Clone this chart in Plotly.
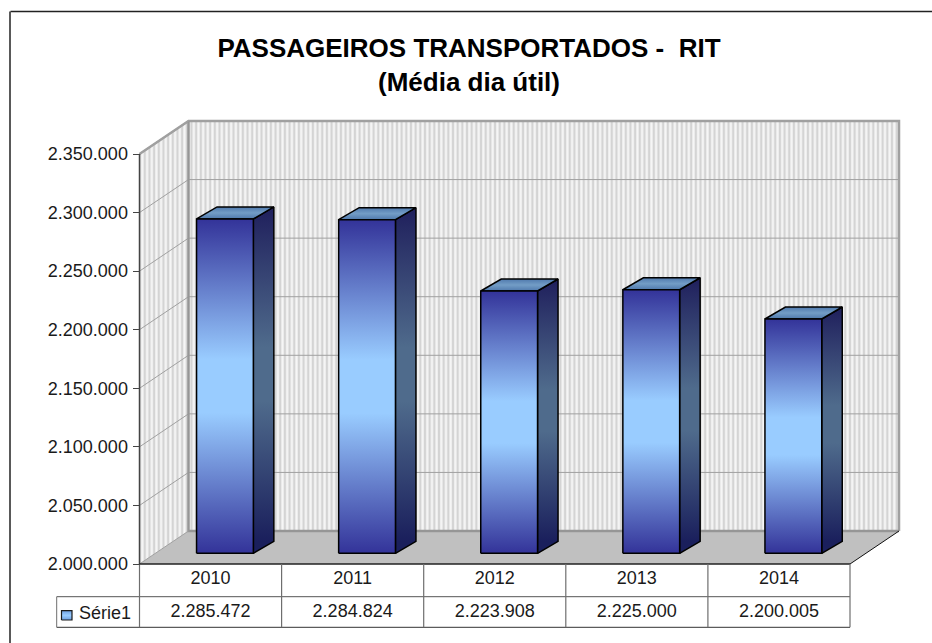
import plotly.graph_objects as go

# data
years = ["2010", "2011", "2012", "2013", "2014"]
values = [2285472, 2284824, 2223908, 2225000, 2200005]
series_name = "Série1"
y_ticks = [2000000, 2050000, 2100000, 2150000, 2200000, 2250000, 2300000, 2350000]
title_lines = ["PASSAGEIROS TRANSPORTADOS -  RIT", "(Média dia útil)"]

W, H = 932, 643
X0, X1, Y0, Y1 = 139.5, 850.0, 564.0, 154.0   # front plane of the plot, in page pixels
YMIN, YMAX = y_ticks[0], y_ticks[-1]
XMIN, XMAX = -0.5, 4.5
ux = (XMAX - XMIN) / (X1 - X0)     # axis units per pixel
uy = (YMAX - YMIN) / (Y0 - Y1)
DX, DY = 49.0 * ux, 33.0 * uy       # wall depth
BX, BY = 20.5 * ux, 12.0 * uy       # bar depth
OX, OY = 14.4 * ux, 10.7 * uy       # bar front plane offset
HALF = 28.4 * ux                    # half bar width
FONT = "Liberation Sans"
TXT = "#1a1a1a"


def fmt(v):
    return f"{v:,d}".replace(",", ".")


def poly(xs, ys, color=None, line=None, width=0, grad=None, pattern=None):
    t = dict(x=xs + xs[:1], y=ys + ys[:1], mode="lines", fill="toself", hoverinfo="skip",
             showlegend=False,
             line=dict(color=line or "rgba(0,0,0,0)", width=width))
    if color:
        t["fillcolor"] = color
    if grad:
        t["fillgradient"] = grad
    if pattern:
        t["fillpattern"] = pattern
    return go.Scatter(**t)


def seg(xs, ys, color, width):
    return go.Scatter(x=xs, y=ys, mode="lines", hoverinfo="skip", showlegend=False,
                      line=dict(color=color, width=width))


fig = go.Figure()

wall_pat = dict(shape="|", size=4.67, solidity=0.5, fgcolor="#f6f6f6", bgcolor="#d4d4d4", fillmode="replace")
xl, xr = XMIN, XMAX

# side wall and back wall
side_x, side_y = [xl, xl + DX, xl + DX, xl], [YMIN, YMIN + DY, YMAX + DY, YMAX]
back_x, back_y = [xl + DX, xr + DX, xr + DX, xl + DX], [YMIN + DY, YMIN + DY, YMAX + DY, YMAX + DY]
fig.add_trace(poly(side_x, side_y, pattern=wall_pat))
fig.add_trace(poly(back_x, back_y, pattern=wall_pat))

# gridlines on both walls
for t in y_ticks[1:-1]:
    fig.add_trace(seg([xl, xl + DX, xr + DX], [t, t + DY, t + DY], "#a0a0a0", 1))

# floor
fig.add_trace(poly([xl, xl + DX, xr + DX, xr], [YMIN, YMIN + DY, YMIN + DY, YMIN], color="#c0c0c0"))

# wall edges
fig.add_trace(seg([xl, xl + DX, xr + DX, xr + DX], [YMAX, YMAX + DY, YMAX + DY, YMIN + DY], "#a0a0a0", 2.5))
fig.add_trace(seg([xl + DX, xl + DX, xr + DX], [YMAX + DY, YMIN + DY, YMIN + DY], "#969696", 2.5))
fig.add_trace(seg([xl, xl + DX], [YMAX, YMAX + DY], "#a0a0a0", 1.5))
fig.add_trace(seg([xl, xl + DX], [YMIN, YMIN + DY], "#a0a0a0", 1))
fig.add_trace(seg([xr, xr + DX], [YMIN, YMIN + DY], "#111111", 1))
fig.add_trace(seg([XMIN, XMIN], [YMIN, YMAX], "#444444", 1.5))

# bars
base = YMIN + OY
for i, v in enumerate(values):
    c = i + OX
    a, b = c - HALF, c + HALF
    top = v + OY
    front_grad = dict(type="vertical", start=base, stop=top,
                      colorscale=[[0, "#333399"], [0.42, "#99ccff"], [0.58, "#99ccff"], [1, "#333399"]])
    side_grad = dict(type="vertical", start=base + BY, stop=top + BY,
                     colorscale=[[0, "#1a1f5c"], [0.42, "#4f6b8c"], [0.58, "#4f6b8c"], [1, "#1f1f5c"]])
    top_grad = dict(type="vertical", start=top, stop=top + BY,
                    colorscale=[[0, "#4f79ad"], [0.5, "#739dc6"], [1, "#4f79ad"]])
    fig.add_trace(poly([b, b + BX, b + BX, b], [base, base + BY, top + BY, top], grad=side_grad, line="#000000", width=1.5))
    fig.add_trace(poly([a, b, b + BX, a + BX], [top, top, top + BY, top + BY], grad=top_grad, line="#000000", width=1.5))
    fig.add_trace(poly([a, b, b, a], [base, base, top, top], grad=front_grad, line="#000000", width=1.5))

# data table rules
r1, r2 = YMIN - (596.7 - Y0) * uy, YMIN - (627.3 - Y0) * uy
xleg = XMIN - (X0 - 56.7) * ux
grid = "#6e6e6e"
fig.add_trace(seg([XMIN, XMAX], [YMIN, YMIN], "#222222", 1.5))
fig.add_trace(seg([xleg, XMAX], [r1, r1], "#555555", 1))
fig.add_trace(seg([xleg, XMAX], [r2, r2], "#333333", 1))
fig.add_trace(seg([xleg, xleg], [r1, r2], grid, 1))
for i in range(6):
    fig.add_trace(seg([XMIN + i, XMIN + i], [YMIN, r2], grid, 1.2))

# legend key inside the table
key_a, key_b = XMIN - (X0 - 61.5) * ux, XMIN - (X0 - 72) * ux
key_t, key_u = YMIN - (610.7 - Y0) * uy, YMIN - (620 - Y0) * uy
fig.add_trace(poly([key_a, key_b, key_b, key_a], [key_u, key_u, key_t, key_t],
                   grad=dict(type="vertical", colorscale=[[0, "#6f9fe0"], [0.5, "#99ccff"], [1, "#6f9fe0"]]),
                   line="#1a1a1a", width=1.2))

# table text
row_y = YMIN - (612.5 - Y0) * uy
fig.add_trace(go.Scatter(x=list(range(len(values))), y=[row_y] * len(values), mode="text",
                         text=[fmt(v) for v in values], textposition="middle center",
                         textfont=dict(family=FONT, size=18, color=TXT),
                         hoverinfo="skip", showlegend=False))
fig.add_annotation(x=XMIN - (X0 - 78) * ux, y=row_y, xref="x", yref="y", text=series_name, showarrow=False,
                   xanchor="left", yanchor="middle", xshift=-1, font=dict(family=FONT, size=18, color=TXT))

# chart frame (top and left edges only are visible)
fig.add_shape(type="line", xref="paper", yref="paper", x0=10.5 / W, x1=1, y0=1 - 11.5 / H, y1=1 - 11.5 / H,
              line=dict(color="#222222", width=1.5))
fig.add_shape(type="line", xref="paper", yref="paper", x0=10 / W, x1=10 / W, y0=0, y1=1 - 11.5 / H,
              line=dict(color="#222222", width=1.5))

fig.update_layout(
    width=W, height=H, margin=dict(l=0, r=0, t=0, b=0, pad=0, autoexpand=False),
    paper_bgcolor="#ffffff", plot_bgcolor="rgba(0,0,0,0)", showlegend=False, separators=",.",
    font=dict(family=FONT, color=TXT),
    title=dict(text="<b>" + title_lines[0] + "</b><br><b>" + title_lines[1] + "</b>",
               x=469 / W, xanchor="center", xref="paper", y=1 - 57 / H, yanchor="top", yref="paper",
               font=dict(family=FONT, size=26, color="#000000")),
    xaxis=dict(domain=[0, 1], range=[XMIN - X0 * ux, XMIN + (W - X0) * ux],
               anchor="free", position=1 - Y0 / H,
               tickmode="array", tickvals=list(range(5)),
               ticktext=years, showgrid=False, zeroline=False, showline=False,
               ticks="", ticklabelstandoff=1,
               tickfont=dict(family=FONT, size=18, color=TXT),
               fixedrange=True),
    yaxis=dict(domain=[0, 1], range=[YMIN - (H - Y0) * uy, YMAX + Y1 * uy],
               anchor="free", position=X0 / W,
               tickmode="array", tickvals=y_ticks,
               tickformat=",d", showgrid=False, zeroline=False, showline=False,
               ticks="outside", ticklen=7, tickwidth=1.2, tickcolor="#444444", ticklabelstandoff=1,
               tickfont=dict(family=FONT, size=18, color=TXT), fixedrange=True),
)

fig.write_html("out.html", config=dict(displayModeBar=False),
               post_script="document.body.style.margin='0';document.body.style.overflow='hidden';")
